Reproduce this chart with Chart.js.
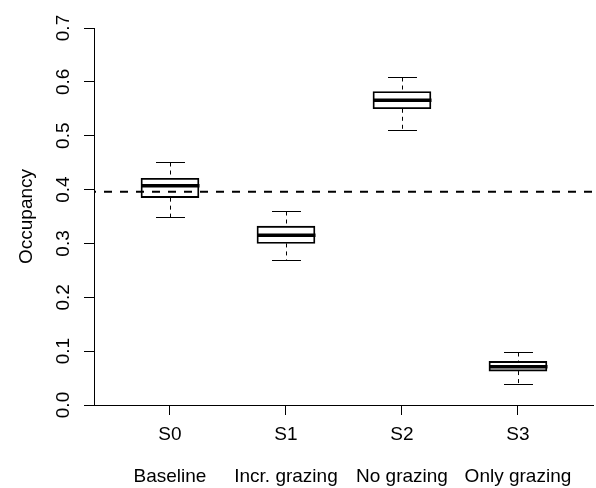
<!DOCTYPE html>
<html>
<head>
<meta charset="utf-8">
<script src="https://cdn.jsdelivr.net/npm/chart.js@4.4.1/dist/chart.umd.min.js"></script>
<style>
html,body{margin:0;padding:0;background:#fff;}
#wrap{width:596px;height:488px;}
</style>
</head>
<body>
<div id="wrap"><canvas id="c" width="596" height="488"></canvas></div>
<script>
// ---- data ----
const codes = ["S0", "S1", "S2", "S3"];
const names = ["Baseline", "Incr. grazing", "No grazing", "Only grazing"];
const positions = [1, 2, 3, 4];
const whiskerLow = [0.350, 0.269, 0.511, 0.039];
const q1 = [0.385, 0.300, 0.550, 0.063];
const medians = [0.407, 0.315, 0.566, 0.071];
const q3 = [0.421, 0.332, 0.582, 0.081];
const whiskerHigh = [0.452, 0.361, 0.609, 0.098];
const referenceLevel = 0.396;
const yTicks = [0.0, 0.1, 0.2, 0.3, 0.4, 0.5, 0.6, 0.7];
const xRange = [0.345, 4.647];

const FONT = "'Liberation Sans', Arial, Helvetica, sans-serif";
Chart.defaults.color = '#000';
Chart.defaults.font.family = FONT;

const boxPlugin = {
  id: 'boxparts',
  afterDatasetsDraw(chart) {
    const ctx = chart.ctx;
    const xs = chart.scales.x, ys = chart.scales.y;
    ctx.save();
    positions.forEach((p, i) => {
      const cx = Math.round(xs.getPixelForValue(p)) + 0.5;
      const half = (xs.getPixelForValue(p + 0.25) - xs.getPixelForValue(p - 0.25)) / 2;
      const capHalf = half / 2;
      const yHi = Math.round(ys.getPixelForValue(whiskerHigh[i])) + 0.5;
      const yLo = Math.round(ys.getPixelForValue(whiskerLow[i])) + 0.5;
      const yQ1 = ys.getPixelForValue(q1[i]);
      const yQ3 = ys.getPixelForValue(q3[i]);
      const yM = ys.getPixelForValue(medians[i]);
      // whiskers (dashed)
      ctx.strokeStyle = '#000';
      ctx.lineWidth = 1;
      ctx.setLineDash([4, 4]);
      ctx.beginPath();
      ctx.moveTo(cx, yHi); ctx.lineTo(cx, yQ3);
      ctx.moveTo(cx, yQ1); ctx.lineTo(cx, yLo);
      ctx.stroke();
      ctx.setLineDash([]);
      // caps
      ctx.beginPath();
      ctx.moveTo(cx - capHalf, yHi); ctx.lineTo(cx + capHalf, yHi);
      ctx.moveTo(cx - capHalf, yLo); ctx.lineTo(cx + capHalf, yLo);
      ctx.stroke();
      // median
      ctx.lineWidth = 3.5;
      ctx.beginPath();
      ctx.moveTo(cx - half, yM); ctx.lineTo(cx + half, yM);
      ctx.stroke();
    });
    ctx.restore();
  }
};

new Chart(document.getElementById('c'), {
  type: 'bar',
  data: {
    datasets: [
      {
        type: 'line',
        order: 0,
        data: [{x: xRange[0], y: referenceLevel}, {x: xRange[1], y: referenceLevel}],
        borderColor: '#000',
        borderWidth: 2,
        borderDash: [8, 8],
        borderDashOffset: 6,
        pointRadius: 0,
        fill: false
      },
      {
        type: 'bar',
        order: 1,
        data: positions.map((p, i) => ({x: p, y: [q1[i], q3[i]]})),
        backgroundColor: 'rgba(255,255,255,0)',
        borderColor: '#000',
        borderWidth: 1.2,
        borderSkipped: false,
        barThickness: 58
      }
    ]
  },
  options: {
    responsive: false,
    animation: false,
    events: [],
    layout: {padding: {left: 0, right: 3, top: 28, bottom: 0}},
    plugins: {legend: {display: false}, tooltip: {enabled: false}},
    scales: {
      x: {
        type: 'linear',
        min: xRange[0],
        max: xRange[1],
        offset: false,
        afterBuildTicks(scale) { scale.ticks = positions.map(v => ({value: v})); },
        afterFit(scale) { scale.height = 83; },
        grid: {display: true, offset: false, drawOnChartArea: false, drawTicks: true, tickLength: 10, color: '#000', lineWidth: 1},
        border: {display: true, color: '#000', width: 1},
        ticks: {
          padding: -1,
          autoSkip: false,
          maxRotation: 0,
          minRotation: 0,
          color: '#000',
          font: {size: 19, family: FONT, lineHeight: '42px'},
          callback(v) { const i = positions.indexOf(v); return i >= 0 ? [codes[i], names[i]] : ''; }
        }
      },
      y: {
        type: 'linear',
        min: 0,
        max: 0.7,
        afterBuildTicks(scale) { scale.ticks = yTicks.map(v => ({value: v})); },
        afterFit(scale) { scale.width = 94; },
        grid: {display: true, drawOnChartArea: false, drawTicks: true, tickLength: 10, color: '#000', lineWidth: 1},
        border: {display: true, color: '#000', width: 1},
        title: {display: true, text: 'Occupancy', color: '#000', font: {size: 19, family: FONT}, padding: {top: 15, bottom: 0}},
        ticks: {
          minRotation: 90,
          maxRotation: 90,
          crossAlign: 'center',
          padding: 7,
          color: '#000',
          font: {size: 19, family: FONT},
          callback(v) { return Number(v).toFixed(1); }
        }
      }
    }
  },
  plugins: [boxPlugin]
});
</script>
</body>
</html>
